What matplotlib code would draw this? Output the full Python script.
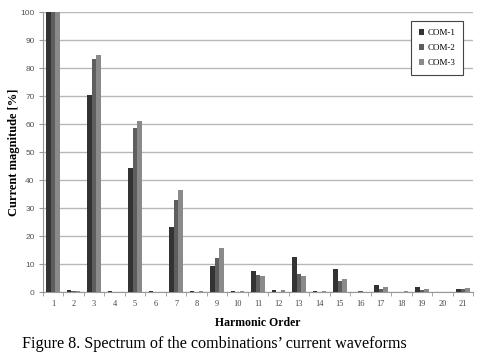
import matplotlib
matplotlib.use("Agg")
import matplotlib.pyplot as plt
import numpy as np

harmonics = [str(i) for i in range(1, 22)]
com1 = [100, 0.8, 70.5, 0.4, 44.3, 0.5, 23.1, 0.5, 9.5, 0.4, 7.5, 0.6, 12.7, 0.4, 8.4, 0.1, 2.4, 0.1, 1.9, 0.1, 1.2]
com2 = [100, 0.5, 83.2, 0.2, 58.7, 0.0, 33.0, 0.1, 12.3, 0.1, 6.3, 0.1, 6.4, 0.2, 4.0, 0.4, 1.3, 0.1, 0.8, 0.1, 1.3]
com3 = [100, 0.3, 84.5, 0.1, 61.2, 0.0, 36.4, 0.4, 15.7, 0.3, 5.8, 0.7, 5.8, 0.4, 4.6, 0.1, 1.8, 0.4, 1.2, 0.1, 1.5]
series = ["COM-1", "COM-2", "COM-3"]
colors = ["#333333", "#5e5e5e", "#8a8a8a"]

fig = plt.figure(figsize=(4.81, 3.55), dpi=100)
ax = fig.add_axes([0.0894, 0.177, 0.894, 0.789])

x = np.arange(len(harmonics))
w = 0.22
for i, (vals, name, c) in enumerate(zip([com1, com2, com3], series, colors)):
    ax.bar(x + (i - 1) * w, vals, width=w, color=c, label=name, zorder=3)

ax.set_xlim(-0.5, len(harmonics) - 0.5)
ax.set_ylim(0, 100)
ax.set_yticks(np.arange(0, 101, 10))
ax.yaxis.grid(True, color="#b8b8b8", linewidth=1.0, zorder=0)
ax.set_axisbelow(True)
for s in ["top", "right"]:
    ax.spines[s].set_visible(False)
ax.spines["left"].set_color("#999999")
ax.spines["bottom"].set_color("#999999")
ax.set_xticks(x)
ax.set_xticklabels(harmonics, fontsize=6, family="Liberation Serif", color="#444444")
ax.tick_params(axis="x", length=0, pad=6)
ax.set_xticks(np.arange(-0.5, len(harmonics), 1), minor=True)
ax.tick_params(axis="x", which="minor", length=3, color="#999999")
ax.tick_params(axis="y", length=3, color="#999999", labelsize=6, labelcolor="#555555", pad=3)
for lab in ax.get_yticklabels():
    lab.set_family("Liberation Sans")

ax.set_ylabel("Current magnitude [%]", family="Liberation Serif", fontweight="bold", fontsize=9)
ax.yaxis.set_label_coords(-0.053, 0.5)
ax.set_xlabel("Harmonic Order", family="Liberation Serif", fontweight="bold", fontsize=8.5, labelpad=6)

leg = ax.legend(loc="upper right", bbox_to_anchor=(0.977, 0.968), prop={"family": "Liberation Serif", "size": 6.5},
                frameon=True, fancybox=False, handlelength=0.6, handleheight=0.6, handletextpad=0.3,
                labelspacing=0.75, borderpad=0.9, borderaxespad=0)
leg.get_frame().set_edgecolor("#444444")
leg.get_frame().set_linewidth(0.8)
leg.get_frame().set_alpha(1)

fig.text(0.046, 0.02, "Figure 8. Spectrum of the combinations\u2019 current waveforms",
         family="Liberation Serif", fontsize=11.6, color="black", ha="left", va="baseline")

fig.savefig("out.png", dpi=100)
